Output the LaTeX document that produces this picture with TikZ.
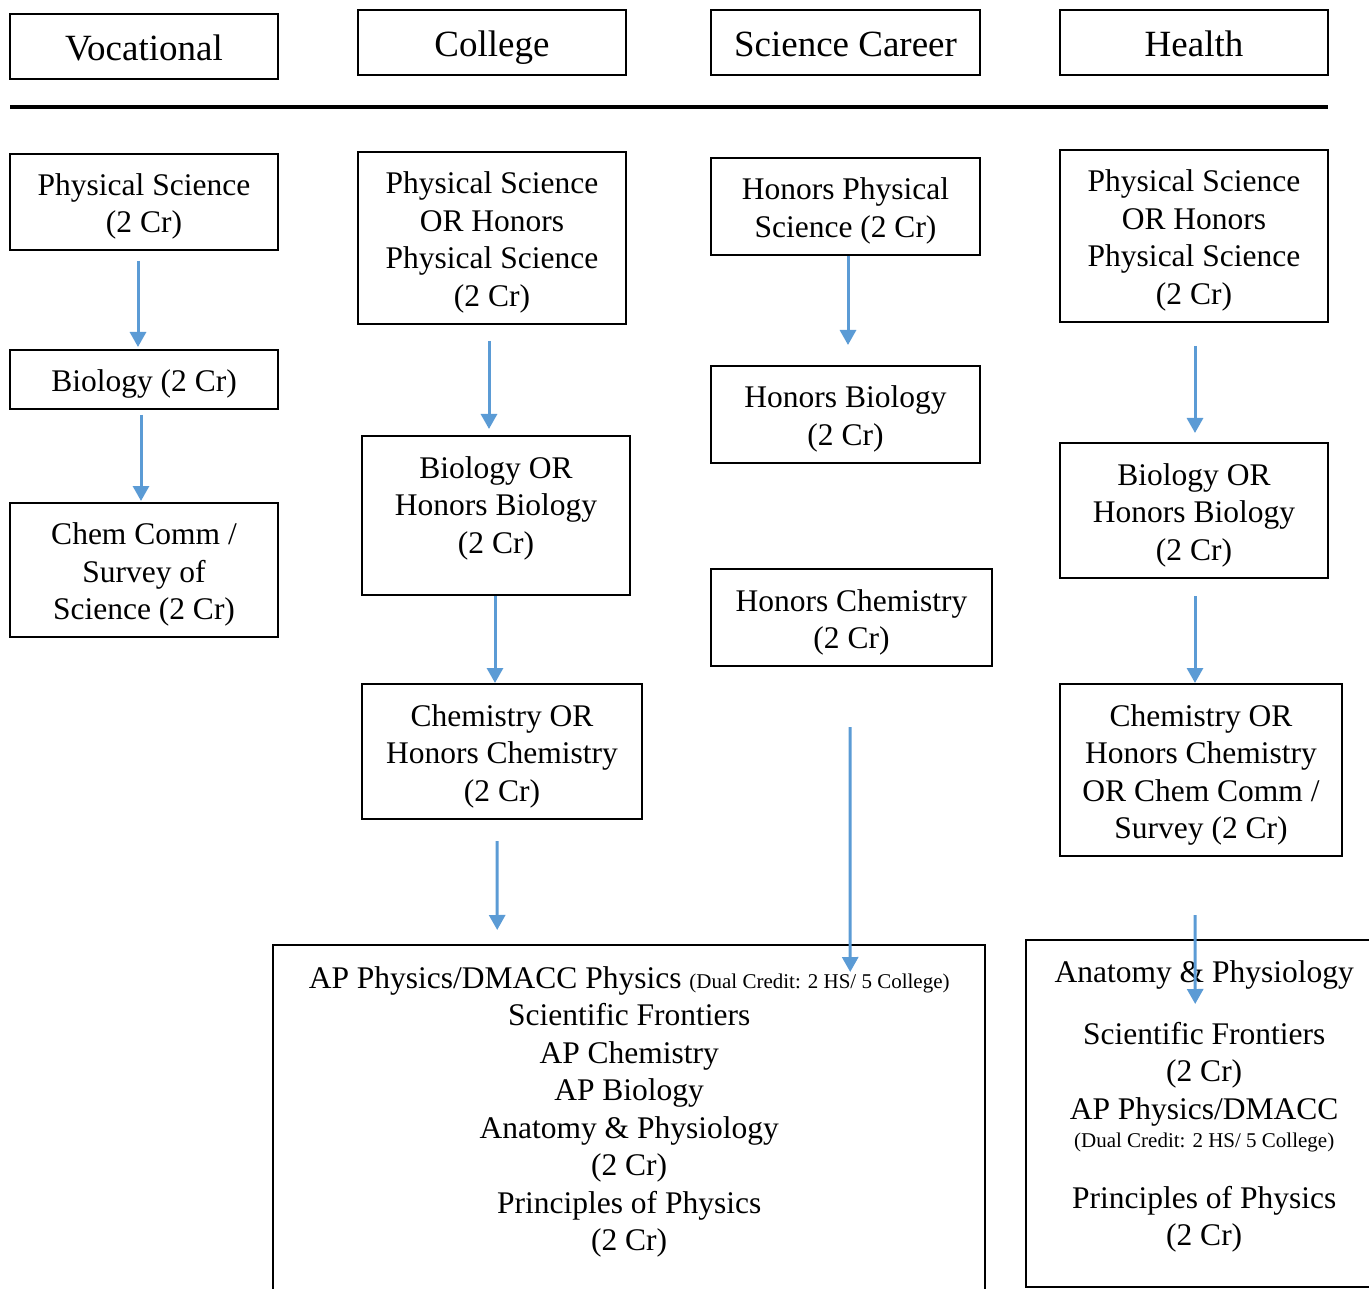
\documentclass[tikz,border=0pt]{standalone}
\usepackage{fontspec}
\setmainfont{Liberation Serif}
\usetikzlibrary{arrows.meta}

\begin{document}
\begin{tikzpicture}[x=1pt,y=-1pt,
    box/.style={draw,line width=2pt,inner sep=0pt,align=center,
      font=\fontsize{31.5}{37.5}\selectfont,
      text height=\dimexpr31.5pt+37.5pt*(#1-1)\relax,text depth=7pt},
    box/.default=1,
    track/.style={draw,line width=2pt,inner sep=0pt,
      minimum width=268pt,minimum height=65pt,text height=34pt,text depth=5.6pt,
      font=\fontsize{37}{44}\selectfont},
    open/.style={inner xsep=0pt,align=flush center,anchor=north west,
      font=\fontsize{31.5}{37.5}\selectfont},
    flow/.style={draw={rgb,255:red,91;green,155;blue,213},line width=3pt,
      -{Triangle[width=16pt,length=15pt]}}]
      \clip (0,0) rectangle (1369,1289);

      % tracks
      \node[track] (voc) at (144,46.5)   {Vocational};
      \node[track] (col) at (492,42.5)   {College};
      \node[track,minimum width=269pt] (sci) at (845.5,42.5) {Science Career};
      \node[track] (hea) at (1194,42.5)  {Health};
      \draw[line width=4pt] (10,107) -- (1328,107);

      % vocational
      \node[box=2,minimum width=268pt,minimum height=96pt]  (v1) at (144,202)  {Physical Science\\(2 Cr)};
      \node[box=1,minimum width=268pt,minimum height=59pt]  (v2) at (144,379.5) {Biology (2 Cr)};
      \node[box=3,minimum width=268pt,minimum height=134pt] (v3) at (144,570)  {Chem Comm /\\Survey of\\Science (2 Cr)};

      % college
      \node[box=4,minimum width=268pt,minimum height=172pt] (c1) at (492,238)   {Physical Science\\OR Honors\\Physical Science\\(2 Cr)};
      \node[box=3,text depth=31pt,minimum width=268pt,minimum height=159pt] (c2) at (496,515.5) {Biology OR\\Honors Biology\\(2 Cr)};
      \node[box=3,minimum width=280pt,minimum height=135pt] (c3) at (502,751.5) {Chemistry OR\\Honors Chemistry\\(2 Cr)};

      % science career
      \node[box=2,minimum width=269pt,minimum height=97pt] (s1) at (845.5,206.5) {Honors Physical\\Science (2 Cr)};
      \node[box=2,minimum width=269pt,minimum height=97pt] (s2) at (845.5,414.5) {Honors Biology\\(2 Cr)};
      \node[box=2,minimum width=281pt,minimum height=97pt] (s3) at (851.5,617.5) {Honors Chemistry\\(2 Cr)};

      % health
      \node[box=4,minimum width=268pt,minimum height=172pt] (h1) at (1194,236)   {Physical Science\\OR Honors\\Physical Science\\(2 Cr)};
      \node[box=3,minimum width=268pt,minimum height=135pt] (h2) at (1194,510.5) {Biology OR\\Honors Biology\\(2 Cr)};
      \node[box=4,minimum width=282pt,minimum height=172pt] (h3) at (1201,770)   {Chemistry OR\\Honors Chemistry\\OR Chem Comm /\\Survey (2 Cr)};

      % electives
      \node[open,text width=712pt,inner ysep=21pt] (ap) at (273,945)
        {AP Physics/DMACC Physics {\fontsize{21}{26}\selectfont(Dual Credit: 2 HS/ 5 College)}\\
         Scientific Frontiers\\AP Chemistry\\AP Biology\\Anatomy \& Physiology\\(2 Cr)\\
         Principles of Physics\\(2 Cr)};
      \draw[line width=2pt] (ap.north west) rectangle ++(712,380);
      \node[open,text width=356pt,inner ysep=20pt] (hx) at (1026,940)
        {Anatomy \& Physiology\\[24.5pt]Scientific Frontiers\\(2 Cr)\\AP Physics/DMACC\\[-9pt]
         {\fontsize{21}{26}\selectfont(Dual Credit: 2 HS/ 5 College)}\\[23pt]
         Principles of Physics\\(2 Cr)};
      \draw[line width=2pt] (hx.north west) rectangle ++(356,347);

      \draw[flow] ([xshift=-6pt,yshift=-10pt]v1.south) -- ([xshift=-6pt,yshift=2pt]v2.north);
      \draw[flow] ([xshift=-3pt,yshift=-5pt]v2.south) -- ([xshift=-3pt,yshift=1pt]v3.north);
      \draw[flow] ([xshift=-3pt,yshift=-16pt]c1.south) -- ([xshift=-7pt,yshift=6pt]c2.north);
      \draw[flow] ([xshift=-1pt]c2.south) -- ([xshift=-7pt]c3.north);
      \draw[flow] ([xshift=-5pt,yshift=-21pt]c3.south) -- ([xshift=-132pt,yshift=15pt]ap.north);
      \draw[flow] ([xshift=2.5pt]s1.south) -- ([xshift=2.5pt,yshift=20pt]s2.north);
      \draw[flow] ([xshift=-1.5pt,yshift=-60pt]s3.south) -- ([xshift=221pt,yshift=-27pt]ap.north);
      \draw[flow] ([xshift=1pt,yshift=-23pt]h1.south) -- ([xshift=1pt,yshift=9pt]h2.north);
      \draw[flow] ([xshift=1pt,yshift=-17pt]h2.south) -- ([xshift=-6pt]h3.north);
      \draw[flow] ([xshift=-6pt,yshift=-58pt]h3.south) -- ([xshift=-9pt,yshift=-64pt]hx.north);
\end{tikzpicture}
\end{document}
